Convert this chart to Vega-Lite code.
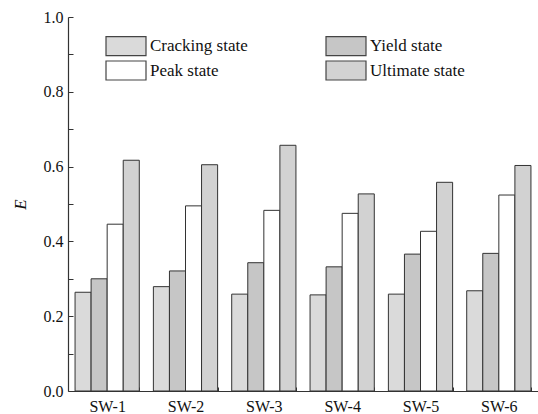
{
  "$schema": "https://vega.github.io/schema/vega-lite/v6.json",
  "width": 470,
  "height": 374,
  "autosize": "none",
  "padding": {"left": 68, "top": 17, "right": 0, "bottom": 23},
  "background": "white",
  "config": {"view": {"stroke": null}, "font": "Liberation Serif"},
  "data": {"values": [
    {"wall": "SW-1", "state": "Cracking state", "E": 0.264},
    {"wall": "SW-1", "state": "Yield state", "E": 0.300},
    {"wall": "SW-1", "state": "Peak state", "E": 0.446},
    {"wall": "SW-1", "state": "Ultimate state", "E": 0.617},
    {"wall": "SW-2", "state": "Cracking state", "E": 0.279},
    {"wall": "SW-2", "state": "Yield state", "E": 0.321},
    {"wall": "SW-2", "state": "Peak state", "E": 0.495},
    {"wall": "SW-2", "state": "Ultimate state", "E": 0.605},
    {"wall": "SW-3", "state": "Cracking state", "E": 0.259},
    {"wall": "SW-3", "state": "Yield state", "E": 0.343},
    {"wall": "SW-3", "state": "Peak state", "E": 0.483},
    {"wall": "SW-3", "state": "Ultimate state", "E": 0.657},
    {"wall": "SW-4", "state": "Cracking state", "E": 0.257},
    {"wall": "SW-4", "state": "Yield state", "E": 0.332},
    {"wall": "SW-4", "state": "Peak state", "E": 0.475},
    {"wall": "SW-4", "state": "Ultimate state", "E": 0.527},
    {"wall": "SW-5", "state": "Cracking state", "E": 0.259},
    {"wall": "SW-5", "state": "Yield state", "E": 0.366},
    {"wall": "SW-5", "state": "Peak state", "E": 0.427},
    {"wall": "SW-5", "state": "Ultimate state", "E": 0.558},
    {"wall": "SW-6", "state": "Cracking state", "E": 0.268},
    {"wall": "SW-6", "state": "Yield state", "E": 0.368},
    {"wall": "SW-6", "state": "Peak state", "E": 0.524},
    {"wall": "SW-6", "state": "Ultimate state", "E": 0.603}
  ]},
  "mark": {"type": "bar", "stroke": "#333333", "strokeWidth": 1, "fillOpacity": 1},
  "encoding": {
    "x": {
      "field": "wall", "type": "nominal", "title": null,
      "scale": {"paddingInner": 0.18, "paddingOuter": 0.09},
      "axis": {"labelAngle": 0, "labelFontSize": 16, "labelColor": "#111", "domainColor": "#333", "domainWidth": 1.2,
               "tickBand": "extent", "tickSize": -4, "tickColor": "#333", "labelPadding": 11, "grid": false}
    },
    "xOffset": {"field": "state", "type": "nominal",
      "sort": ["Cracking state", "Yield state", "Peak state", "Ultimate state"]},
    "y": {
      "field": "E", "type": "quantitative",
      "scale": {"domain": [0, 1.0], "nice": false},
      "axis": {"title": "E", "titleFontStyle": "italic", "titleFontWeight": "normal", "titleFontSize": 17, "titleColor": "#111",
               "titlePadding": 14,
               "values": [0, 0.1, 0.2, 0.3, 0.4, 0.5, 0.6, 0.7, 0.8, 0.9, 1.0],
               "labelExpr": "datum.value * 10 % 2 < 0.01 || datum.value * 10 % 2 > 1.99 ? format(datum.value, '.1f') : ''",
               "labelFontSize": 16, "labelColor": "#111", "domainColor": "#333", "domainWidth": 1.2,
               "tickColor": "#333", "tickSize": -5, "labelPadding": 10, "grid": false}
    },
    "fill": {
      "field": "state", "type": "nominal",
      "scale": {"domain": ["Cracking state", "Peak state", "Yield state", "Ultimate state"],
                "range": ["#dadada", "#ffffff", "#c6c6c6", "#d2d2d2"]},
      "legend": {
        "title": null, "orient": "none", "legendX": 47, "legendY": 18, "columns": 2, "columnPadding": 75, "rowPadding": 0.5,
        "symbolType": "M-2,-0.95H2V0.95H-2Z", "symbolSize": 400, "symbolStrokeColor": "#444", "symbolStrokeWidth": 1.2,
        "labelFontSize": 17, "labelColor": "#111", "labelOffset": 13
      }
    }
  }
}
